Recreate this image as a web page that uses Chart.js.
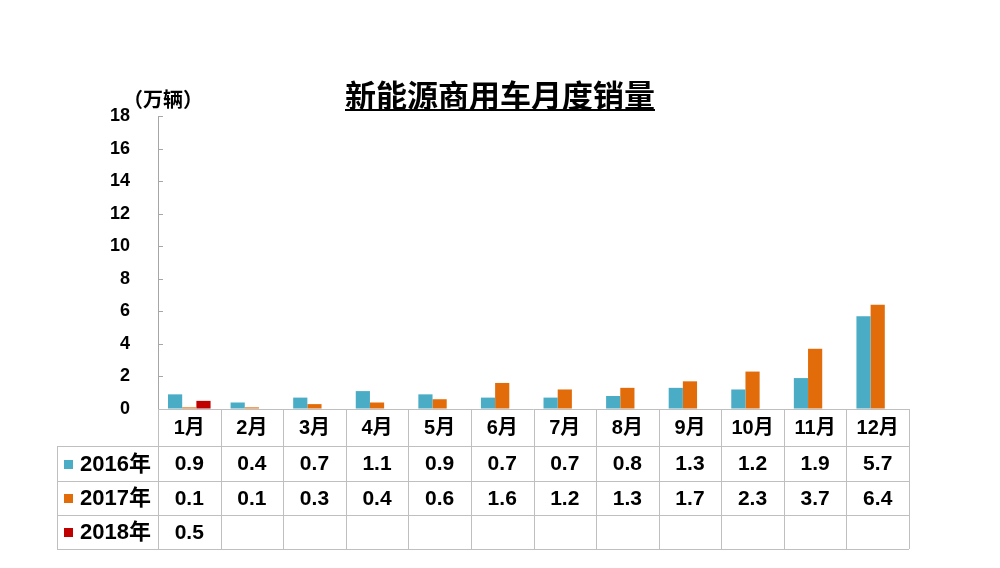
<!DOCTYPE html>
<html>
<head>
<meta charset="utf-8">
<script src="https://cdn.jsdelivr.net/npm/chart.js@4.4.0/dist/chart.umd.min.js"></script>
<style>
  html, body { margin: 0; padding: 0; background: #ffffff; }
  #wrap { width: 1000px; height: 568px; position: relative; }
</style>
</head>
<body>
<div id="wrap"><canvas id="c" width="1000" height="568"></canvas></div>
<script>
const months = ['1月','2月','3月','4月','5月','6月','7月','8月','9月','10月','11月','12月'];
const seriesNames = ['2016年','2017年','2018年'];
const sales2016 = [0.9, 0.4, 0.7, 1.1, 0.9, 0.7, 0.7, 0.8, 1.3, 1.2, 1.9, 5.7];
const sales2017 = [0.1, 0.1, 0.3, 0.4, 0.6, 1.6, 1.2, 1.3, 1.7, 2.3, 3.7, 6.4];
const sales2018 = [0.5, null, null, null, null, null, null, null, null, null, null, null];
const yTicks = [0, 2, 4, 6, 8, 10, 12, 14, 16, 18];
const titleText = '新能源商用车月度销量';
const unitText = '（万辆）';

const colors = ['#4BACC6', '#E36C0A', '#C00000'];
const FONT = '"Liberation Sans", Arial, "Noto Sans CJK SC", sans-serif';

const tablePlugin = {
  id: 'tablePlugin',
  afterDraw(chart) {
    const ctx = chart.ctx;
    const area = chart.chartArea;
    const xs = chart.scales.x;
    const ys = chart.scales.y;
    const half = (xs.getPixelForValue(1) - xs.getPixelForValue(0)) / 2;
    ctx.save();

    // inward tick marks on the y axis
    ctx.strokeStyle = '#A6A6A6';
    ctx.lineWidth = 1;
    yTicks.forEach(v => {
      const y = Math.round(ys.getPixelForValue(v)) + 0.5;
      ctx.beginPath();
      ctx.moveTo(area.left, y);
      ctx.lineTo(area.left + 5, y);
      ctx.stroke();
    });

    // data table
    const rowTops = [area.bottom, area.bottom + 37, area.bottom + 72, area.bottom + 106, area.bottom + 140];
    const tableLeft = 57;
    const colEdges = months.map((m, i) => xs.getPixelForValue(i) - half);
    colEdges.push(xs.getPixelForValue(months.length - 1) + half);
    ctx.strokeStyle = '#BFBFBF';
    ctx.lineWidth = 1;
    const px = v => Math.round(v) + 0.5;
    ctx.beginPath();
    ctx.moveTo(colEdges[0], px(rowTops[0]));
    ctx.lineTo(colEdges[colEdges.length - 1], px(rowTops[0]));
    for (let r = 1; r < rowTops.length; r++) {
      ctx.moveTo(tableLeft, px(rowTops[r]));
      ctx.lineTo(colEdges[colEdges.length - 1], px(rowTops[r]));
    }
    colEdges.forEach(x => {
      ctx.moveTo(px(x), rowTops[0]);
      ctx.lineTo(px(x), rowTops[rowTops.length - 1]);
    });
    ctx.moveTo(px(tableLeft), rowTops[1]);
    ctx.lineTo(px(tableLeft), rowTops[rowTops.length - 1]);
    ctx.stroke();

    ctx.fillStyle = '#000000';
    ctx.textBaseline = 'middle';
    ctx.textAlign = 'center';
    ctx.font = 'bold 20px ' + FONT;
    months.forEach((m, i) => {
      ctx.fillText(m, xs.getPixelForValue(i), (rowTops[0] + rowTops[1]) / 2 + 1);
    });
    const rows = [sales2016, sales2017, sales2018];
    rows.forEach((arr, r) => {
      const yc = (rowTops[r + 1] + rowTops[r + 2]) / 2 + 1;
      ctx.font = 'bold 21px ' + FONT;
      arr.forEach((v, i) => {
        if (v === null || v === undefined) return;
        ctx.fillStyle = '#000000';
        ctx.textAlign = 'center';
        ctx.fillText(v.toFixed(1), xs.getPixelForValue(i), yc);
      });
      ctx.fillStyle = colors[r];
      ctx.fillRect(64, Math.round(yc - 5), 9, 9);
      ctx.fillStyle = '#000000';
      ctx.textAlign = 'left';
      ctx.font = 'bold 22px ' + FONT;
      ctx.fillText(seriesNames[r], 80, yc);
    });

    // title with underline
    ctx.font = 'bold 31px "Noto Sans CJK SC", sans-serif';
    ctx.textAlign = 'center';
    ctx.textBaseline = 'middle';
    ctx.fillStyle = '#000000';
    const tx = 500, ty = 95;
    ctx.fillText(titleText, tx, ty);
    const tw = ctx.measureText(titleText).width;
    ctx.fillRect(tx - tw / 2, 109, tw, 2);

    // unit label
    ctx.font = 'bold 20px "Noto Sans CJK SC", sans-serif';
    ctx.textAlign = 'left';
    ctx.fillText(unitText, 123, 99);

    ctx.restore();
  }
};

new Chart(document.getElementById('c'), {
  type: 'bar',
  data: {
    labels: months,
    datasets: [
      { label: seriesNames[0], data: sales2016, backgroundColor: colors[0] },
      { label: seriesNames[1], data: sales2017, backgroundColor: colors[1] },
      { label: seriesNames[2], data: sales2018, backgroundColor: colors[2] }
    ]
  },
  options: {
    responsive: false,
    animation: false,
    devicePixelRatio: 1,
    layout: { padding: { left: 0, right: 91, top: 116, bottom: 159 } },
    datasets: { bar: { barPercentage: 1, categoryPercentage: 0.68, borderWidth: 0 } },
    plugins: {
      legend: { display: false },
      title: { display: false },
      tooltip: { enabled: false }
    },
    scales: {
      x: {
        display: false,
        grid: { display: false }
      },
      y: {
        min: 0,
        max: 18,
        afterFit(scale) { scale.width = 158; },
        afterBuildTicks(scale) { scale.ticks = yTicks.map(v => ({ value: v })); },
        grid: { drawOnChartArea: false, drawTicks: false },
        border: { display: true, color: '#A6A6A6', width: 1 },
        ticks: {
          padding: 28,
          color: '#000000',
          font: { family: FONT, size: 18, weight: 'bold' }
        }
      }
    }
  },
  plugins: [tablePlugin]
});
</script>
</body>
</html>
